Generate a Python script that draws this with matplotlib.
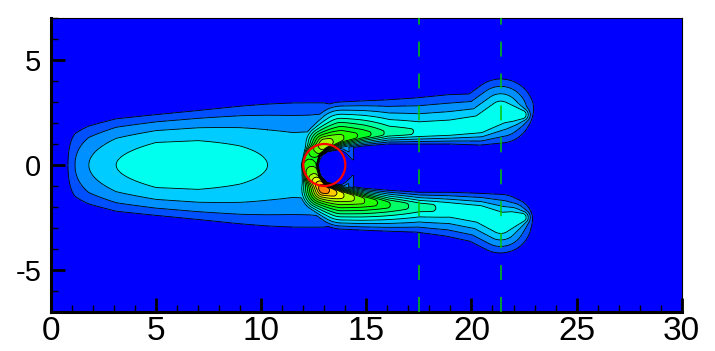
import numpy as np
import matplotlib
matplotlib.use('Agg')
import matplotlib.pyplot as plt
from matplotlib.patches import Circle
from matplotlib.ticker import MultipleLocator

plt.rcParams['font.family'] = ['Liberation Sans', 'DejaVu Sans']
plt.rcParams['axes.unicode_minus'] = False

# upstream blob (centred on y=0): level on the axis and half width, per x station
blob_x = [0.5, 0.81, 1.14, 1.8, 3.1, 5.0, 7.0, 9.0, 10.3, 11.5, 12.3, 13.0, 13.6, 14.1, 14.5]
blob_level = [0.3, 1.0, 2.0, 3.0, 4.0, 4.75, 4.75, 4.35, 4.0, 3.75, 3.8, 4.1, 3.8, 2.5, 0.5]
blob_halfwidth = [1.8, 2.0, 2.1, 2.27, 2.54, 2.7, 2.92, 3.19, 3.35, 3.45, 3.45, 3.4, 3.3, 3.2, 3.2]
# empty pocket behind the cylinder
hole_x, hole_y, hole_rx, hole_ry = 13.5, -0.12, 0.8, 0.88

# horseshoe ridge around the cylinder: upper tip -> left of cylinder -> lower tip
ridge_x = [22.4, 21.9, 21.4, 20.4, 19.0, 17.5, 16.0, 14.8, 13.8, 13.0, 12.5, 12.3,
           12.5, 12.95, 13.8, 14.8, 16.0, 17.5, 19.0, 20.4, 21.4, 21.9, 22.4]
ridge_y = [2.4, 2.45, 2.5, 1.9, 1.7, 1.6, 1.55, 1.45, 1.3, 1.0, 0.6, 0.0,
           -0.65, -1.15, -1.45, -1.7, -1.9, -2.0, -2.1, -2.3, -2.75, -2.6, -2.5]
ridge_peak = [4.5, 4.6, 4.7, 4.6, 4.6, 4.8, 5.6, 7.5, 9.0, 10.5, 8.0, 8.0,
              10.0, 13.5, 11.0, 9.0, 7.0, 5.3, 4.6, 4.6, 4.7, 4.6, 4.5]
# half width of the flat top of the ridge
ridge_core = [0.15, 0.25, 0.3, 0.25, 0.2, 0.15, 0.12, 0.12, 0.15, 0.18, 0.25, 0.3,
              0.25, 0.15, 0.15, 0.15, 0.15, 0.15, 0.2, 0.25, 0.3, 0.25, 0.15]
# distance from the ridge to the outermost contour, outside / inside the horseshoe
ridge_reach_out = [0.5, 1.0, 1.6, 1.5, 1.65, 1.6, 1.55, 1.6, 1.7, 1.2, 0.6, 0.45,
                   0.7, 1.3, 1.6, 1.4, 1.25, 1.2, 1.3, 1.4, 1.45, 1.0, 0.5]
ridge_reach_in = [0.5, 1.0, 1.45, 0.95, 0.7, 0.6, 0.55, 0.55, 0.55, 0.4, 0.35, 0.4,
                  0.35, 0.35, 0.5, 0.6, 0.7, 0.7, 0.8, 0.95, 1.35, 1.0, 0.5]

band_colors = ['#0000FF', '#0050FF', '#0090FF', '#00CCFF', '#00FFEE', '#00FFAA',
               '#00FF66', '#00FF22', '#22FF00', '#66FF00', '#AAFF00', '#EEFF00',
               '#FFCC00', '#FF8800']
levels = [-1] + list(range(1, 15))

cyl_x, cyl_y, cyl_r = 13.0, 0.0, 1.0
probe_x = [17.5, 21.4]

# build the field
x = np.linspace(0, 30, 1201)
y = np.linspace(-7, 7, 561)
X, Y = np.meshgrid(x, y)

a = np.interp(x, blob_x, blob_level, left=0, right=0)
w = np.interp(x, blob_x, blob_halfwidth)
rho = np.hypot((X - hole_x) / hole_rx, (Y - hole_y) / hole_ry)
field = a[None, :] * (1 - (Y / w[None, :]) ** 2) * np.clip((rho - 0.9) / 0.3, 0, 1)

rx, ry = np.array(ridge_x), np.array(ridge_y)
s = np.concatenate([[0], np.cumsum(np.hypot(np.diff(rx), np.diff(ry)))])
sd = np.linspace(0, s[-1], 500)
px, py = np.interp(sd, s, rx), np.interp(sd, s, ry)
peak = np.interp(sd, s, ridge_peak)
core = np.interp(sd, s, ridge_core)
wo = (np.interp(sd, s, ridge_reach_out) - core) / (peak - 1)
wi = (np.interp(sd, s, ridge_reach_in) - core) / (peak - 1)
tx, ty = np.gradient(px), np.gradient(py)
nrm = np.hypot(tx, ty)
nx, ny = ty / nrm, -tx / nrm

cols = (x >= 9) & (x <= 25)
Xs, Ys = X[:, cols], Y[:, cols]
fr = np.full(Xs.shape, -1.0)
for i in range(len(sd)):
    dx, dy = Xs - px[i], Ys - py[i]
    d = np.hypot(dx, dy) + 1e-9
    side = np.clip(0.5 + 1.5 * (dx * nx[i] + dy * ny[i]) / d, 0, 1)
    ww = wi[i] + (wo[i] - wi[i]) * side
    fr = np.maximum(fr, peak[i] - np.maximum(d - core[i], 0) / ww)
field[:, cols] = np.maximum(field[:, cols], fr)
field = np.clip(field, 0, None)

fig = plt.figure(figsize=(7.15, 3.51), dpi=100)
ax = fig.add_axes([51 / 715, 39 / 351, 630.7 / 715, 294 / 351])
ax.contourf(X, Y, field, levels=levels, colors=band_colors)
ax.contour(X, Y, field, levels=levels[1:-1], colors='k', linewidths=0.6)
ax.add_patch(Circle((cyl_x, cyl_y), cyl_r, fill=False, ec='red', lw=1.6, zorder=5))
for xv in probe_x:
    ax.axvline(xv, color='#00C800', lw=1.1, linestyle=(0, (9.8, 11.1)), zorder=6)

ax.set_xlim(0, 30)
ax.set_ylim(-7, 7)
ax.set_xticks(range(0, 31, 5))
ax.set_yticks([-5, 0, 5])
ax.xaxis.set_minor_locator(MultipleLocator(1))
ax.yaxis.set_minor_locator(MultipleLocator(1))
ax.tick_params(which='major', direction='in', length=10, width=2, top=False, right=False)
ax.tick_params(which='minor', direction='in', length=5, width=1, top=False, right=False)
ax.tick_params(axis='x', labelsize=24, pad=3)
ax.tick_params(axis='y', labelsize=21, pad=7)
for side in ['left', 'bottom']:
    ax.spines[side].set_linewidth(2.2)
for side in ['top', 'right']:
    ax.spines[side].set_linewidth(0.8)

fig.savefig('out.png', dpi=100)
